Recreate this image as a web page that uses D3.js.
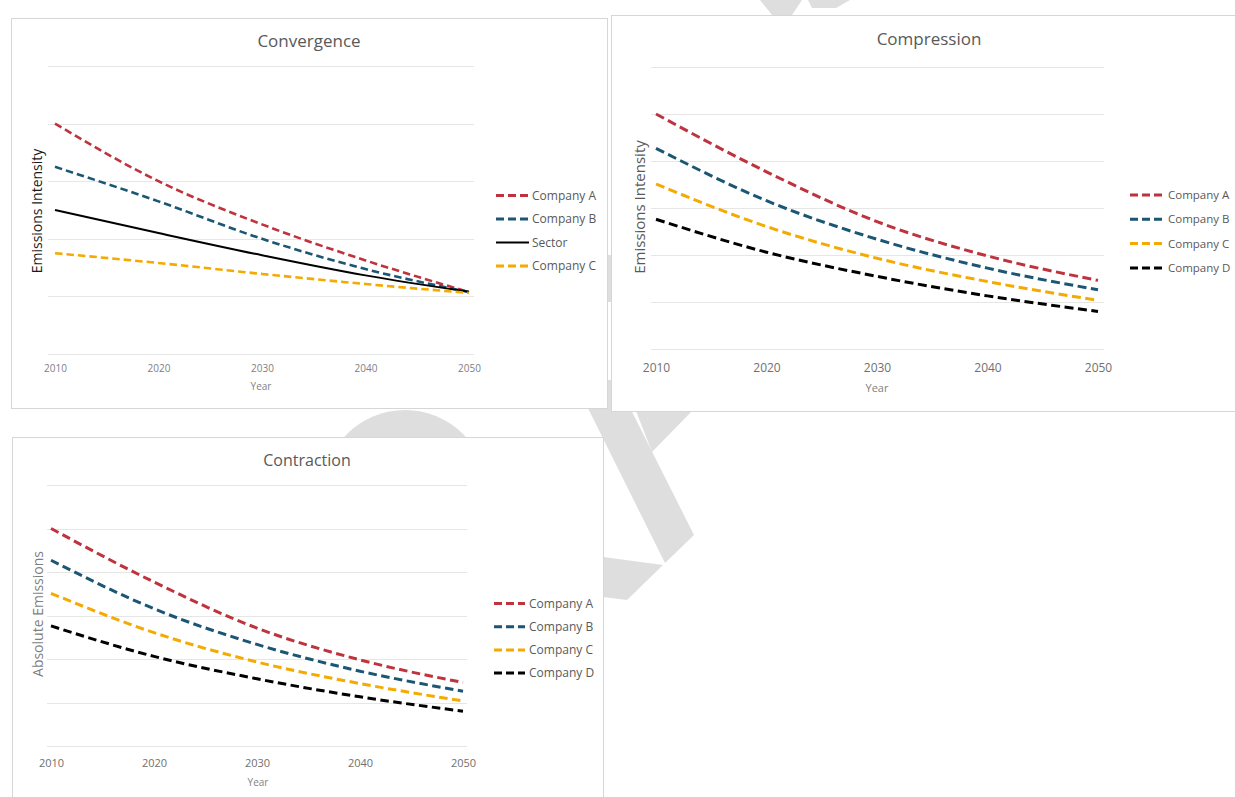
<!DOCTYPE html>
<html>
<head>
<meta charset="utf-8">
<script src="https://cdn.jsdelivr.net/npm/d3@7"></script>
<style>
  html, body { margin: 0; padding: 0; background: #fff; }
  svg { display: block; font-family: "Open Sans", "Noto Sans", sans-serif; }
</style>
</head>
<body>
<svg id="chart" width="1235" height="797"></svg>
<script>
// ---- data -------------------------------------------------------------
const years = [2010, 2020, 2030, 2040, 2050];
const yearTicks = [2010, 2020, 2030, 2040, 2050];

// Convergence: every company meets the sector intensity in 2050
const convergenceNames = ["Company A", "Company B", "Sector", "Company C"];
const convergenceA = [80, 60, 45, 32.5, 21.5];
const convergenceB = [65, 53, 40, 29.5, 21.5];
const convergenceSector = [50, 42, 34.3, 27.3, 21.6];
const convergenceC = [35, 31.6, 27.8, 24.3, 21.2];
const convergenceGrid = [0, 20, 40, 60, 80, 100];

// Compression: same percentage reduction for each company (intensity)
const compressionNames = ["Company A", "Company B", "Company C", "Company D"];
const compressionA = [100, 75.4, 54.2, 39.6, 29.2];
const compressionB = [85.4, 63.1, 46.7, 34.4, 25.2];
const compressionC = [70.2, 52.1, 38.6, 28.7, 20.7];
const compressionD = [55.2, 41.2, 30.9, 22.6, 16];
const compressionGrid = [0, 20, 40, 60, 80, 100, 120];

// Contraction: same percentage reduction for each company (absolute)
const contractionNames = ["Company A", "Company B", "Company C", "Company D"];
const contractionA = [100, 75.4, 54.2, 39.6, 29.2];
const contractionB = [85.4, 63.1, 46.7, 34.4, 25.2];
const contractionC = [70.2, 52.1, 38.6, 28.7, 20.7];
const contractionD = [55.2, 41.2, 30.9, 22.6, 16];
const contractionGrid = [0, 20, 40, 60, 80, 100, 120];

// ---- styling ----------------------------------------------------------
const RED = "#be333d", BLUE = "#1b5674", GOLD = "#f4aa00", BLACK = "#000000";

const svg = d3.select("#chart");
svg.append("rect").attr("width", 1235).attr("height", 797).attr("fill", "#fff");

// faint background watermark strokes
const wm = svg.append("g").attr("fill", "#dedede");
wm.append("circle").attr("cx", 405).attr("cy", 492).attr("r", 82);
wm.append("polygon").attr("points", "574,380 616,380 694,535 665,563");
wm.append("polygon").attr("points", "636,411 652,452 692,411");
wm.append("polygon").attr("points", "603,557 663,565 627,600 603,597");
wm.append("polygon").attr("points", "598,255 613,255 613,302 598,302");
wm.append("polygon").attr("points", "760,0 802,0 792,15 772,15");
wm.append("polygon").attr("points", "808,0 850,0 836,8 812,8");

function drawPanel(cfg) {
  const g = svg.append("g");
  g.append("rect")
    .attr("x", cfg.box[0] + 0.5).attr("y", cfg.box[1] + 0.5)
    .attr("width", cfg.box[2] - cfg.box[0]).attr("height", cfg.box[3] - cfg.box[1])
    .attr("fill", "#fff").attr("stroke", "#d6d6d6").attr("stroke-width", 1);

  const x = d3.scaleLinear().domain([2010, 2050]).range(cfg.xRange);
  const y = d3.scaleLinear().domain([0, d3.max(cfg.grid)]).range(cfg.yRange);

  // horizontal gridlines
  g.append("g").selectAll("line").data(cfg.grid).join("line")
    .attr("x1", cfg.gridX[0]).attr("x2", cfg.gridX[1])
    .attr("y1", d => Math.round(y(d)) + 0.5).attr("y2", d => Math.round(y(d)) + 0.5)
    .attr("stroke", "#e6e6e6").attr("stroke-width", 1);

  // x axis labels
  const xAxis = d3.axisBottom(x).tickValues(yearTicks).tickFormat(d3.format("d")).tickSize(0).tickPadding(0);
  const ax = g.append("g").attr("transform", `translate(0,${cfg.tickY})`).call(xAxis);
  ax.select(".domain").remove();
  ax.selectAll("text")
    .attr("dy", 0).attr("y", 0)
    .attr("fill", cfg.tickColor).attr("font-size", cfg.tickSize)
    .attr("font-family", "Open Sans, sans-serif");

  // title and axis titles
  g.append("text").attr("x", cfg.title[0]).attr("y", cfg.title[1])
    .attr("text-anchor", "middle").attr("font-size", cfg.titleSize).attr("fill", "#595959")
    .text(cfg.titleText);
  g.append("text").attr("x", cfg.xTitle[0]).attr("y", cfg.xTitle[1])
    .attr("text-anchor", "middle").attr("font-size", cfg.xTitleSize).attr("fill", "#7f7f7f")
    .text("Year");
  g.append("text")
    .attr("transform", `translate(${cfg.yTitle[0]},${cfg.yTitle[1]}) rotate(-90)`)
    .attr("text-anchor", "middle").attr("font-size", cfg.yTitleSize).attr("fill", cfg.yTitleColor)
    .text(cfg.yTitleText);

  // series lines
  const line = d3.line()
    .x((d, i) => x(years[i]))
    .y(d => y(d))
    .curve(d3.curveMonotoneX);
  cfg.series.forEach(s => {
    g.append("path").datum(s.values)
      .attr("d", line)
      .attr("fill", "none")
      .attr("stroke", s.color)
      .attr("stroke-width", s.dashed ? cfg.dashWidth : 2)
      .attr("stroke-dasharray", s.dashed ? cfg.dash : null);
  });

  // legend
  const lg = g.append("g");
  cfg.series.forEach((s, i) => {
    const yy = cfg.legendRows[0] + i * cfg.legendStep;
    lg.append("line")
      .attr("x1", cfg.legendLine[0]).attr("x2", cfg.legendLine[1])
      .attr("y1", yy).attr("y2", yy)
      .attr("stroke", s.color)
      .attr("stroke-width", s.dashed ? 3 : 2)
      .attr("stroke-dasharray", s.dashed ? "8,4" : null);
    lg.append("text")
      .attr("x", cfg.legendText).attr("y", yy)
      .attr("dy", "0.35em")
      .attr("font-size", cfg.legendSize).attr("fill", "#595959")
      .text(s.name);
  });
}

drawPanel({
  box: [11, 18, 607, 408],
  xRange: [55, 469], yRange: [354, 66], gridX: [48, 474], grid: convergenceGrid,
  tickY: 372, tickSize: 10, tickColor: "#808080",
  title: [309, 47], titleSize: 17, titleText: "Convergence",
  xTitle: [261, 390], xTitleSize: 10,
  yTitle: [42, 211], yTitleSize: 14, yTitleColor: "#1a1a1a", yTitleText: "Emissions Intensity",
  dash: "7.5,4", dashWidth: 2.6,
  legendRows: [195.5], legendStep: 23.5, legendLine: [496, 529], legendText: 532, legendSize: 12,
  series: [
    { name: convergenceNames[0], values: convergenceA, color: RED, dashed: true },
    { name: convergenceNames[1], values: convergenceB, color: BLUE, dashed: true },
    { name: convergenceNames[2], values: convergenceSector, color: BLACK, dashed: false },
    { name: convergenceNames[3], values: convergenceC, color: GOLD, dashed: true }
  ]
});

drawPanel({
  box: [611, 15, 1240, 411],
  xRange: [656, 1098], yRange: [349, 67], gridX: [651, 1104], grid: compressionGrid,
  tickY: 372, tickSize: 12, tickColor: "#707070",
  title: [929, 45], titleSize: 17, titleText: "Compression",
  xTitle: [877, 392], xTitleSize: 11,
  yTitle: [645, 207], yTitleSize: 15, yTitleColor: "#595959", yTitleText: "Emissions Intensity",
  dash: "9,4.5", dashWidth: 3,
  legendRows: [195], legendStep: 24.3, legendLine: [1130, 1164], legendText: 1168, legendSize: 11.5,
  series: [
    { name: compressionNames[0], values: compressionA, color: RED, dashed: true },
    { name: compressionNames[1], values: compressionB, color: BLUE, dashed: true },
    { name: compressionNames[2], values: compressionC, color: GOLD, dashed: true },
    { name: compressionNames[3], values: compressionD, color: BLACK, dashed: true }
  ]
});

drawPanel({
  box: [12, 437, 603, 805],
  xRange: [51, 463], yRange: [746, 485], gridX: [47, 467], grid: contractionGrid,
  tickY: 767, tickSize: 11, tickColor: "#707070",
  title: [307, 466], titleSize: 16, titleText: "Contraction",
  xTitle: [258, 786], xTitleSize: 10,
  yTitle: [43, 614], yTitleSize: 14, yTitleColor: "#7f7f7f", yTitleText: "Absolute Emissions",
  dash: "8.5,4.5", dashWidth: 3,
  legendRows: [603.5], legendStep: 23.2, legendLine: [494, 525], legendText: 529, legendSize: 12,
  series: [
    { name: contractionNames[0], values: contractionA, color: RED, dashed: true },
    { name: contractionNames[1], values: contractionB, color: BLUE, dashed: true },
    { name: contractionNames[2], values: contractionC, color: GOLD, dashed: true },
    { name: contractionNames[3], values: contractionD, color: BLACK, dashed: true }
  ]
});
</script>
</body>
</html>
